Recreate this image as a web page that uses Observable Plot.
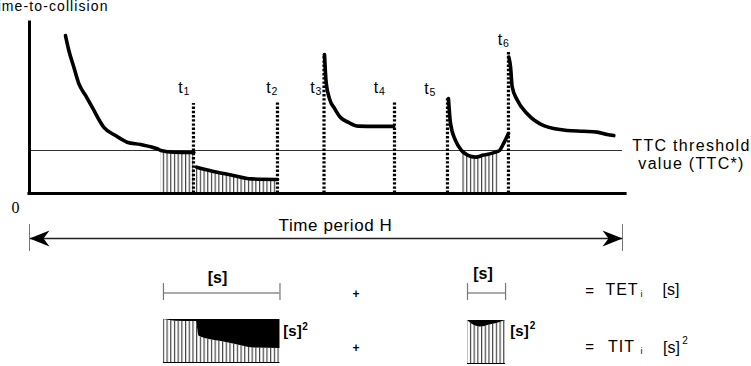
<!DOCTYPE html>
<html>
<head>
<meta charset="utf-8">
<script src="https://cdn.jsdelivr.net/npm/d3@7"></script>
<script src="https://cdn.jsdelivr.net/npm/@observablehq/plot@0.6"></script>
<style>
  html, body { margin: 0; padding: 0; background: #fff; }
  #chart svg { display: block; background: #fff; }
</style>
</head>
<body>
<div id="chart"></div>
<script>
// ---------- data ----------
const H = 60;          // observation period H (s)
const TTC_STAR = 1.5;  // TTC threshold value (s)

const eventNames = ["1", "2", "3", "4", "5", "6"];
const eventTimes = [16.59, 25.09, 29.80, 36.93, 42.29, 48.46];
const eventTops  = [3.14, 3.17, 4.85, 3.17, 3.31, 4.92];

const seg1Time = [3.64, 3.98, 4.48, 4.99, 5.67, 6.34, 7.52, 8.70, 9.88, 11.23, 12.92, 13.30, 14.60, 16.63];
const seg1TTC  = [5.51, 4.99, 4.41, 3.83, 3.42, 3.01, 2.31, 2.02, 1.79, 1.71, 1.56, 1.50, 1.44, 1.43];
const seg2Time = [16.90, 19.00, 20.60, 22.40, 25.09];
const seg2TTC  = [0.92, 0.74, 0.63, 0.51, 0.49];
const seg3Time = [29.85, 30.00, 30.35, 30.86, 31.47, 32.28, 33.29, 35.00, 36.83];
const seg3TTC  = [4.85, 3.94, 3.31, 2.97, 2.65, 2.48, 2.35, 2.34, 2.34];
const seg4Time = [42.39, 42.60, 43.10, 43.71, 44.32, 45.13, 45.94, 46.75, 47.36, 47.56, 47.96, 48.46];
const seg4TTC  = [3.31, 2.44, 1.85, 1.50, 1.34, 1.27, 1.34, 1.40, 1.47, 1.50, 1.74, 2.09];
const seg5Time = [48.50, 48.67, 48.84, 49.35, 50.36, 52.03, 54.40, 56.08, 57.43, 58.45, 59.12];
const seg5TTC  = [4.76, 4.42, 3.72, 3.26, 2.78, 2.37, 2.20, 2.17, 2.14, 2.06, 2.02];

// ---------- layout ----------
const FONT = "Liberation Sans, Arial, Helvetica, sans-serif";
const xS = d3.scaleLinear([0, H], [29, 622]);
const yS = d3.scaleLinear([0, TTC_STAR], [193, 150]);
const T = px => xS.invert(px);
const V = py => yS.invert(py);

const segments = [[seg1Time, seg1TTC], [seg2Time, seg2TTC], [seg3Time, seg3TTC], [seg4Time, seg4TTC], [seg5Time, seg5TTC]]
  .map(([ts, vs], i) => ts.map((t, j) => ({seg: i, t, v: vs[j]})));
const curve = segments.flat();
const below = curve.filter(d => d.v <= TTC_STAR + 1e-9);

const events = eventTimes.map((t, i) => ({name: eventNames[i], t, top: eventTops[i]}));
const labelDx = [-13, -9, -11.5, -18.5, -21, -8.5];
const labelDy = [-106, -106, -106, -106, -105, -154];

// legend boxes: copies of the below-threshold parts (TET / TIT)
const boxes = [
  {id: 0, segs: [0, 1], dx: 2.5, dy: 169},
  {id: 1, segs: [3], dx: 6, dy: 170}
];
const boxPts = boxes.flatMap(b => {
  const dt = T(29 + b.dx), dv = V(193 + b.dy);
  return below.filter(d => b.segs.includes(d.seg))
    .map(d => ({box: b.id, t: d.t + dt, v: d.v + dv, base: dv, top: TTC_STAR + dv}));
});
const boxExt = boxes.map(b => {
  const pts = boxPts.filter(p => p.box === b.id);
  return {box: b.id, t0: d3.min(pts, p => p.t), t1: d3.max(pts, p => p.t), base: pts[0].base};
});

const arrowRight = {draw(ctx) { ctx.moveTo(0, 0); ctx.lineTo(-20, -8); ctx.lineTo(-14, 0); ctx.lineTo(-20, 8); ctx.closePath(); }};
const arrowLeft  = {draw(ctx) { ctx.moveTo(0, 0); ctx.lineTo(20, -8); ctx.lineTo(14, 0); ctx.lineTo(20, 8); ctx.closePath(); }};

function note(text, x, y, o = {}) {
  return Plot.text([text], {frameAnchor: "top-left", dx: x, dy: y, textAnchor: "middle", lineAnchor: "middle",
    fontFamily: FONT, fontSize: 15, fill: "#000", ...o});
}

const svg = Plot.plot({
  width: 751,
  height: 366,
  margin: 0,
  style: {background: "#fff", overflow: "hidden"},
  x: {domain: [0, H], range: [29, 622], axis: null},
  y: {domain: [0, TTC_STAR], range: [193, 150], axis: null},
  marks: [
    // hatched areas under threshold
    Plot.areaY(below, {x: "t", y1: 0, y2: "v", z: "seg", fill: "url(#hatch)", curve: "monotone-x"}),
    // threshold line
    Plot.ruleY([TTC_STAR], {x1: 0, x2: H, stroke: "#333", strokeWidth: 1}),
    // event lines
    Plot.ruleX(events, {x: "t", y1: 0, y2: "top", stroke: "#000", strokeWidth: 3.2, strokeDasharray: "2.4,1.8"}),
    // TTC curves
    Plot.line(curve, {x: "t", y: "v", z: "seg", stroke: "#000", strokeWidth: 3.6, curve: "monotone-x",
      strokeLinejoin: "round", strokeLinecap: "round"}),
    // axes
    Plot.ruleX([0], {y1: 0, y2: V(22), stroke: "#000", strokeWidth: 3, strokeLinecap: "square"}),
    Plot.ruleY([0], {x1: 0, x2: T(625), stroke: "#000", strokeWidth: 3.2, strokeLinecap: "square"}),
    // event labels
    ...events.map((e, i) => Plot.text([e], {x: "t", y: 0, text: () => "t", dx: labelDx[i], dy: labelDy[i],
      fontFamily: FONT, fontSize: 16, lineAnchor: "middle", textAnchor: "middle"})),
    ...events.map((e, i) => Plot.text([e], {x: "t", y: 0, text: "name", dx: labelDx[i] + 6, dy: labelDy[i] + 4,
      fontFamily: FONT, fontSize: 10.5, lineAnchor: "middle", textAnchor: "middle"})),
    // time period H arrow
    Plot.ruleY([V(238)], {x1: 0, x2: H, stroke: "#222", strokeWidth: 1.3}),
    Plot.ruleX([0, H], {y1: V(224), y2: V(251), stroke: "#777", strokeWidth: 1}),
    Plot.dot([H], {x: d => d, y: V(238), symbol: arrowRight, fill: "#000", stroke: "none"}),
    Plot.dot([0], {x: d => d, y: V(238), symbol: arrowLeft, fill: "#000", stroke: "none"}),
    // legend boxes
    Plot.areaY(boxPts, {x: "t", y1: "base", y2: "v", z: "box", fill: "url(#hatch)", curve: "monotone-x"}),
    Plot.areaY(boxPts, {x: "t", y1: "v", y2: "top", z: "box", fill: "#000", curve: "monotone-x"}),
    Plot.ruleY(boxExt, {y: "base", x1: "t0", x2: "t1", stroke: "#000", strokeWidth: 1}),
    // TET brackets
    Plot.ruleY(boxExt, {y: V(292.5), x1: "t0", x2: "t1", stroke: "#555", strokeWidth: 1.2}),
    Plot.ruleX(boxExt.flatMap(b => [b.t0, b.t1]), {x: d => d, y1: V(283), y2: V(300), stroke: "#777", strokeWidth: 1.2}),
    // texts
    note("Time-to-collision", -12, 6, {textAnchor: "start", fontSize: 14}),
    note("0", 15, 207, {fontFamily: "Liberation Serif, Times New Roman, serif", fontSize: 16}),
    note("Time period H", 335, 225.5, {fontSize: 17}),
    note("TTC threshold", 691, 145.5, {fontSize: 16}),
    note("value (TTC*)", 691, 163, {fontSize: 16}),
    note("[s]", 217, 277, {fontWeight: "bold", fontSize: 16}),
    note("[s]", 482.5, 273, {fontWeight: "bold", fontSize: 16}),
    note("+", 355.5, 294, {fontWeight: "bold", fontSize: 12}),
    note("+", 355.5, 348, {fontWeight: "bold", fontSize: 12}),
    note("[s]", 292, 330.5, {fontWeight: "bold", fontSize: 15}),
    note("2", 304.5, 326, {fontWeight: "bold", fontSize: 10}),
    note("[s]", 519, 330.5, {fontWeight: "bold", fontSize: 15}),
    note("2", 532, 325, {fontWeight: "bold", fontSize: 10}),
    note("=", 589, 290.5, {fontSize: 15}),
    note("TET", 621.5, 289, {fontSize: 16}),
    note("i", 641, 294, {fontSize: 9}),
    note("[s]", 670.5, 289.5, {fontSize: 16}),
    note("=", 589, 347, {fontSize: 15}),
    note("TIT", 621, 346, {fontSize: 16}),
    note("i", 641, 351, {fontSize: 9}),
    note("[s]", 671, 347, {fontSize: 16}),
    note("2", 684.5, 340, {fontSize: 10})
  ]
});

d3.select(svg).insert("defs", ":first-child").html(
  '<pattern id="hatch" patternUnits="userSpaceOnUse" width="3.7" height="6">' +
  '<rect width="3.7" height="6" fill="#fff"/>' +
  '<line x1="0.6" y1="0" x2="0.6" y2="6" stroke="#333" stroke-width="1.1"/></pattern>');

const spacing = {"Time-to-collision": "1.1px", "Time period H": "0.6px", "TTC threshold": "1.3px", "value (TTC*)": "1.3px",
  "TET": "1px", "TIT": "1px"};
d3.select(svg).selectAll("text").each(function () {
  const s = spacing[this.textContent];
  if (s) this.style.letterSpacing = s;
});

document.getElementById("chart").appendChild(svg);
</script>
</body>
</html>
